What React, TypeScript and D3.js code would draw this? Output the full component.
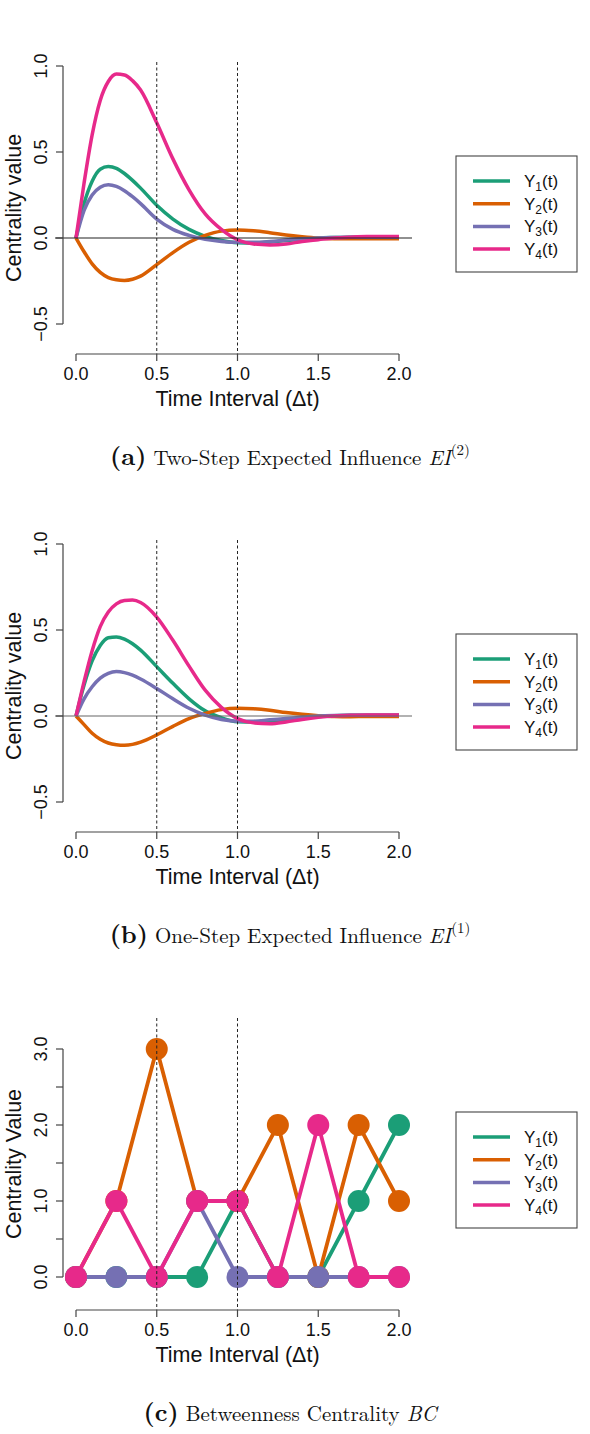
import React from 'react';
import * as d3 from 'd3';

// ---------- data ----------
const tGrid = [0, 0.05, 0.1, 0.15, 0.2, 0.25, 0.3, 0.35, 0.4, 0.5, 0.6, 0.7, 0.8, 0.9, 1.0, 1.1, 1.2, 1.3, 1.4, 1.5, 1.6, 1.7, 1.8, 1.9, 2.0];

// (a) Two-step expected influence
const ei2Y1 = [0, 0.2, 0.33, 0.4, 0.415, 0.405, 0.375, 0.335, 0.29, 0.19, 0.11, 0.05, 0.01, -0.015, -0.028, -0.03, -0.025, -0.015, -0.008, 0, 0.003, 0.005, 0.005, 0.005, 0.005];
const ei2Y2 = [0, -0.08, -0.15, -0.2, -0.23, -0.243, -0.247, -0.24, -0.222, -0.155, -0.085, -0.025, 0.015, 0.04, 0.047, 0.042, 0.031, 0.018, 0.008, 0.0, -0.004, -0.005, -0.005, -0.004, -0.004];
const ei2Y3 = [0, 0.16, 0.25, 0.295, 0.31, 0.3, 0.275, 0.24, 0.2, 0.11, 0.05, 0.015, -0.008, -0.02, -0.025, -0.025, -0.02, -0.012, -0.005, 0, 0.003, 0.004, 0.004, 0.004, 0.004];
const ei2Y4 = [0, 0.32, 0.6, 0.8, 0.91, 0.953, 0.948, 0.915, 0.86, 0.67, 0.46, 0.28, 0.14, 0.05, -0.01, -0.035, -0.04, -0.035, -0.02, -0.01, 0.0, 0.005, 0.008, 0.008, 0.008];

// (b) One-step expected influence
const ei1Y1 = [0, 0.18, 0.32, 0.41, 0.455, 0.46, 0.447, 0.42, 0.383, 0.287, 0.19, 0.1, 0.03, -0.01, -0.033, -0.035, -0.03, -0.02, -0.01, -0.003, 0.002, 0.004, 0.004, 0.004, 0.004];
const ei1Y2 = [0, -0.05, -0.1, -0.135, -0.157, -0.167, -0.17, -0.165, -0.152, -0.11, -0.06, -0.015, 0.015, 0.037, 0.045, 0.042, 0.033, 0.02, 0.01, 0.002, -0.003, -0.004, -0.003, -0.003, -0.003];
const ei1Y3 = [0, 0.1, 0.17, 0.22, 0.248, 0.258, 0.252, 0.237, 0.215, 0.16, 0.1, 0.045, 0.005, -0.02, -0.03, -0.03, -0.022, -0.015, -0.007, 0, 0.003, 0.004, 0.004, 0.004, 0.004];
const ei1Y4 = [0, 0.2, 0.38, 0.52, 0.605, 0.652, 0.672, 0.674, 0.66, 0.575, 0.44, 0.29, 0.15, 0.05, -0.015, -0.04, -0.045, -0.035, -0.02, -0.008, 0.0, 0.004, 0.006, 0.006, 0.006];

// (c) Betweenness centrality
const bcTime = [0, 0.25, 0.5, 0.75, 1.0, 1.25, 1.5, 1.75, 2.0];
const bcY1 = [0, 0, 0, 0, 1, 0, 0, 1, 2];
const bcY2 = [0, 1, 3, 1, 1, 2, 0, 2, 1];
const bcY3 = [0, 0, 0, 1, 0, 0, 0, 0, 0];
const bcY4 = [0, 1, 0, 1, 1, 0, 2, 0, 0];

const seriesSubs = ['1', '2', '3', '4'];
const colors = ['#1B9E77', '#D95F02', '#7570B3', '#E7298A'];
const xTicks = [0, 0.5, 1.0, 1.5, 2.0];
const eiYTicks = [-0.5, 0, 0.5, 1.0];
const bcYTicks = [0, 0.5, 1, 1.5, 2, 2.5, 3];
const bcYLabels = [0, 1, 2, 3];
const vLines = [0.5, 1.0];

const SANS = '"Liberation Sans", Arial, Helvetica, sans-serif';
const SERIF = '"Latin Modern Roman", "DejaVu Serif", "Liberation Serif", serif';

type PanelProps = {
  yDomain: [number, number];
  yRange: [number, number];
  yTicks: number[];
  yLabels: number[];
  yTitle: string;
  series: number[][];
  xs: number[];
  points: boolean;
  zeroLine: string | null;
  regionTop: number;
  regionBottom: number;
  legendTop: number;
  capLetter: string;
  capText: string;
  capMath: string;
  capSup: string | null;
};

function Panel(p: PanelProps) {
  const x = d3.scaleLinear().domain([0, 2]).range([76, 399]);
  const y = d3.scaleLinear().domain(p.yDomain).range(p.yRange);
  const left = 63;
  const right = 412;
  const line = d3
    .line<number>()
    .x((_, i) => x(p.xs[i]))
    .y((d) => y(d))
    .curve(p.points ? d3.curveLinear : d3.curveMonotoneX);
  const yMin = d3.min(p.yTicks) as number;
  const yMax = d3.max(p.yTicks) as number;
  const plotMidY = (p.regionTop + p.regionBottom) / 2;
  const axisY = p.regionBottom;
  return (
    <g>
      {p.series.map((s, k) => (
        <g key={k}>
          <path d={line(s) || ''} fill="none" stroke={colors[k]} strokeWidth={p.points ? 3.8 : 3.5} strokeLinejoin="round" />
          {p.points &&
            s.map((v, i) => <circle key={i} cx={x(p.xs[i])} cy={y(v)} r={11} fill={colors[k]} />)}
        </g>
      ))}
      {p.zeroLine && <line x1={55} x2={right} y1={y(0)} y2={y(0)} stroke={p.zeroLine} strokeWidth={1.1} />}
      {vLines.map((v) => (
        <line key={v} x1={x(v)} x2={x(v)} y1={p.regionTop} y2={axisY} stroke="#222" strokeWidth={1} strokeDasharray="3,2.5" />
      ))}
      <line x1={x(0)} x2={x(2)} y1={axisY} y2={axisY} stroke="#444" strokeWidth={1.2} />
      {xTicks.map((t) => (
        <g key={t}>
          <line x1={x(t)} x2={x(t)} y1={axisY} y2={axisY + 7} stroke="#444" strokeWidth={1.2} />
          <text x={x(t)} y={axisY + 26} textAnchor="middle" fontFamily={SANS} fontSize={18} fill="#111">
            {d3.format('.1f')(t)}
          </text>
        </g>
      ))}
      <text x={(left + right) / 2} y={axisY + 52} textAnchor="middle" fontFamily={SANS} fontSize={21.5} fill="#111">
        Time Interval (Δt)
      </text>
      <line x1={left} x2={left} y1={y(yMin)} y2={y(yMax)} stroke="#444" strokeWidth={1.2} />
      {p.yTicks.map((t) => (
        <line key={t} x1={left - 7} x2={left} y1={y(t)} y2={y(t)} stroke="#444" strokeWidth={1.2} />
      ))}
      {p.yLabels.map((t) => (
        <text
          key={t}
          transform={`translate(${47},${y(t)}) rotate(-90)`}
          textAnchor="middle"
          fontFamily={SANS}
          fontSize={18}
          fill="#111"
        >
          {t < 0 ? '\u2212' + d3.format('.1f')(-t) : d3.format('.1f')(t)}
        </text>
      ))}
      <text
        transform={`translate(${21},${plotMidY}) rotate(-90)`}
        textAnchor="middle"
        fontFamily={SANS}
        fontSize={21.5}
        fill="#111"
      >
        {p.yTitle}
      </text>
      <rect x={456} y={p.legendTop} width={121} height={116} fill="white" stroke="#444" strokeWidth={1.1} />
      {seriesSubs.map((sub, i) => {
        const ly = p.legendTop + 25 + i * 22.7;
        return (
          <g key={sub}>
            <line x1={473} x2={510} y1={ly} y2={ly} stroke={colors[i]} strokeWidth={3.5} />
            <text x={524} y={ly + 6} fontFamily={SANS} fontSize={17} fill="#111">
              Y
              <tspan fontSize={12} dy={4}>
                {sub}
              </tspan>
              <tspan dy={-4}>(t)</tspan>
            </text>
          </g>
        );
      })}
      <text x={290} y={axisY + 111} textAnchor="middle" fontFamily={SERIF} fontSize={21} fill="#111">
        <tspan fontWeight="bold" fontSize={25}>
          {p.capLetter}
        </tspan>
        <tspan> {p.capText} </tspan>
        <tspan fontStyle="italic">{p.capMath}</tspan>
        {p.capSup && (
          <tspan fontSize={15} dy={-10}>
            {p.capSup}
          </tspan>
        )}
      </text>
    </g>
  );
}

export default function App() {
  return (
    <svg
      width={590}
      height={1434}
      style={{ position: 'absolute', left: 0, top: 0, background: 'white' }}
      xmlns="http://www.w3.org/2000/svg"
    >
      <rect x={0} y={0} width={590} height={1434} fill="white" />
      <Panel
        yDomain={[-0.5, 1.0]}
        yRange={[324, 66]}
        yTicks={eiYTicks}
        yLabels={eiYTicks}
        yTitle="Centrality value"
        series={[ei2Y1, ei2Y2, ei2Y3, ei2Y4]}
        xs={tGrid}
        points={false}
        zeroLine="#222"
        regionTop={62}
        regionBottom={354}
        legendTop={156}
        capLetter="(a)"
        capText="Two-Step Expected Influence"
        capMath="EI"
        capSup="(2)"
      />
      <Panel
        yDomain={[-0.5, 1.0]}
        yRange={[802, 544]}
        yTicks={eiYTicks}
        yLabels={eiYTicks}
        yTitle="Centrality value"
        series={[ei1Y1, ei1Y2, ei1Y3, ei1Y4]}
        xs={tGrid}
        points={false}
        zeroLine="#666"
        regionTop={540}
        regionBottom={832}
        legendTop={634}
        capLetter="(b)"
        capText="One-Step Expected Influence"
        capMath="EI"
        capSup="(1)"
      />
      <Panel
        yDomain={[0, 3]}
        yRange={[1277, 1049]}
        yTicks={bcYTicks}
        yLabels={bcYLabels}
        yTitle="Centrality Value"
        series={[bcY1, bcY2, bcY3, bcY4]}
        xs={bcTime}
        points={true}
        zeroLine={null}
        regionTop={1018}
        regionBottom={1310}
        legendTop={1112}
        capLetter="(c)"
        capText="Betweenness Centrality"
        capMath="BC"
        capSup={null}
      />
    </svg>
  );
}
